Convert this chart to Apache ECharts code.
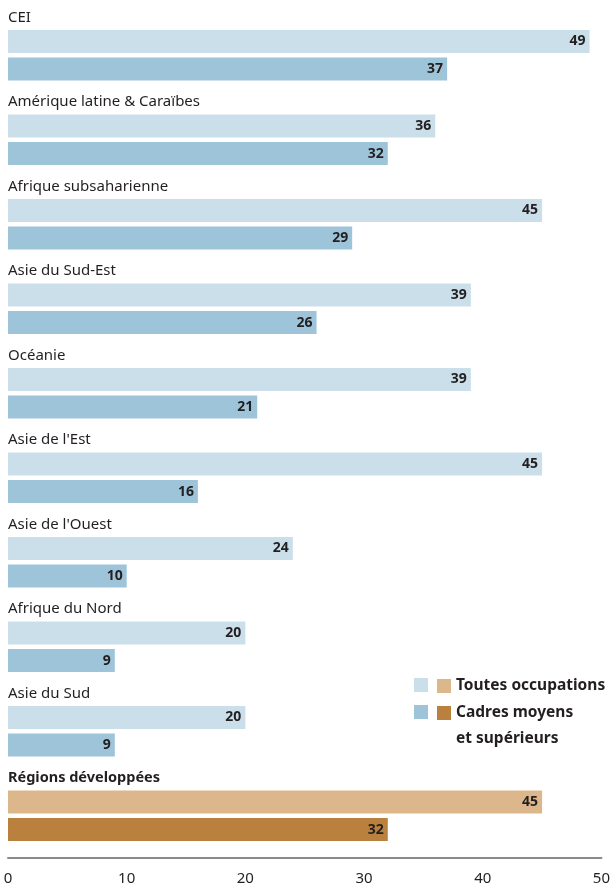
<!DOCTYPE html>
<html>
<head>
<meta charset="utf-8">
<script src="https://cdn.jsdelivr.net/npm/echarts@6/dist/echarts.min.js"></script>
<style>
  html, body { margin: 0; padding: 0; background: #fff; }
  #chart { width: 613px; height: 886px; }
</style>
</head>
<body>
<div id="chart"></div>
<script>
// données
var regions = ['CEI', 'Amérique latine & Caraïbes', 'Afrique subsaharienne', 'Asie du Sud-Est',
    'Océanie', "Asie de l'Est", "Asie de l'Ouest", 'Afrique du Nord', 'Asie du Sud', 'Régions développées'];
var toutesOccupations = [49, 36, 45, 39, 39, 45, 24, 20, 20, null];
var cadres = [37, 32, 29, 26, 21, 16, 10, 9, 9, null];
var devToutes = [null, null, null, null, null, null, null, null, null, 45];
var devCadres = [null, null, null, null, null, null, null, null, null, 32];
var xTicks = [0, 10, 20, 30, 40, 50];

var txt = '#231f20';
var font = 'Noto Sans';

var valueLabel = {
    show: true,
    position: 'insideRight',
    distance: 4,
    color: txt,
    fontFamily: font,
    fontWeight: 'bold',
    fontSize: 14
};

var chart = echarts.init(document.getElementById('chart'));
var option = {
    animation: false,
    grid: { left: 8, right: 10, top: 13, bottom: 25, containLabel: false },
    xAxis: {
        type: 'value',
        min: xTicks[0],
        max: xTicks[xTicks.length - 1],
        interval: 10,
        axisLine: { show: true, lineStyle: { color: '#8a8a8a', width: 2 } },
        axisTick: { show: false },
        splitLine: { show: false },
        axisLabel: { color: txt, fontFamily: font, fontSize: 15, margin: 13 }
    },
    yAxis: {
        type: 'category',
        data: regions,
        inverse: true,
        axisLine: { show: false },
        axisTick: { show: false },
        axisLabel: {
            inside: true,
            margin: 0,
            verticalAlign: 'middle',
            padding: [0, 0, 76, 0],
            fontFamily: font,
            fontSize: 15,
            color: txt,
            formatter: function (v) {
                return v === 'Régions développées' ? '{b|' + v + '}' : v;
            },
            rich: { b: { fontWeight: 'bold', fontSize: 14.5, fontFamily: font, color: txt } }
        },
        z: 10
    },
    legend: [
        {
            left: 414, top: 678, orient: 'vertical', padding: 0,
            icon: 'rect', itemWidth: 14, itemHeight: 14, itemGap: 13,
            selectedMode: false,
            data: ['Toutes occupations (en développement)', 'Cadres (en développement)'],
            formatter: function () { return ''; },
            textStyle: { fontSize: 1 }
        },
        {
            left: 437, top: 678, padding: 0,
            icon: 'rect', itemWidth: 14, itemHeight: 14,
            selectedMode: false,
            data: ['Toutes occupations'],
            textStyle: { color: txt, fontFamily: font, fontWeight: 'bold', fontSize: 15.5 }
        },
        {
            left: 437, top: 674, padding: 0,
            icon: 'rect', itemWidth: 14, itemHeight: 14,
            selectedMode: false,
            data: ['Cadres moyens\net supérieurs'],
            formatter: function (name) { return '\n' + name; },
            textStyle: { color: txt, fontFamily: font, fontWeight: 'bold', fontSize: 15.5, lineHeight: 26 }
        }
    ],
    series: [
        {
            name: 'Toutes occupations (en développement)',
            type: 'bar', stack: 'a', data: toutesOccupations,
            barWidth: 23, barGap: '20%',
            itemStyle: { color: '#cbdfea' },
            label: valueLabel
        },
        {
            name: 'Cadres (en développement)',
            type: 'bar', stack: 'b', data: cadres,
            barWidth: 23, barGap: '20%',
            itemStyle: { color: '#9ec4da' },
            label: valueLabel
        },
        {
            name: 'Toutes occupations',
            type: 'bar', stack: 'a', data: devToutes,
            barWidth: 23, barGap: '20%',
            itemStyle: { color: '#dcb78c' },
            label: valueLabel
        },
        {
            name: 'Cadres moyens\net supérieurs',
            type: 'bar', stack: 'b', data: devCadres,
            barWidth: 23, barGap: '20%',
            itemStyle: { color: '#b9813d' },
            label: valueLabel
        }
    ]
};
chart.setOption(option);
</script>
</body>
</html>
